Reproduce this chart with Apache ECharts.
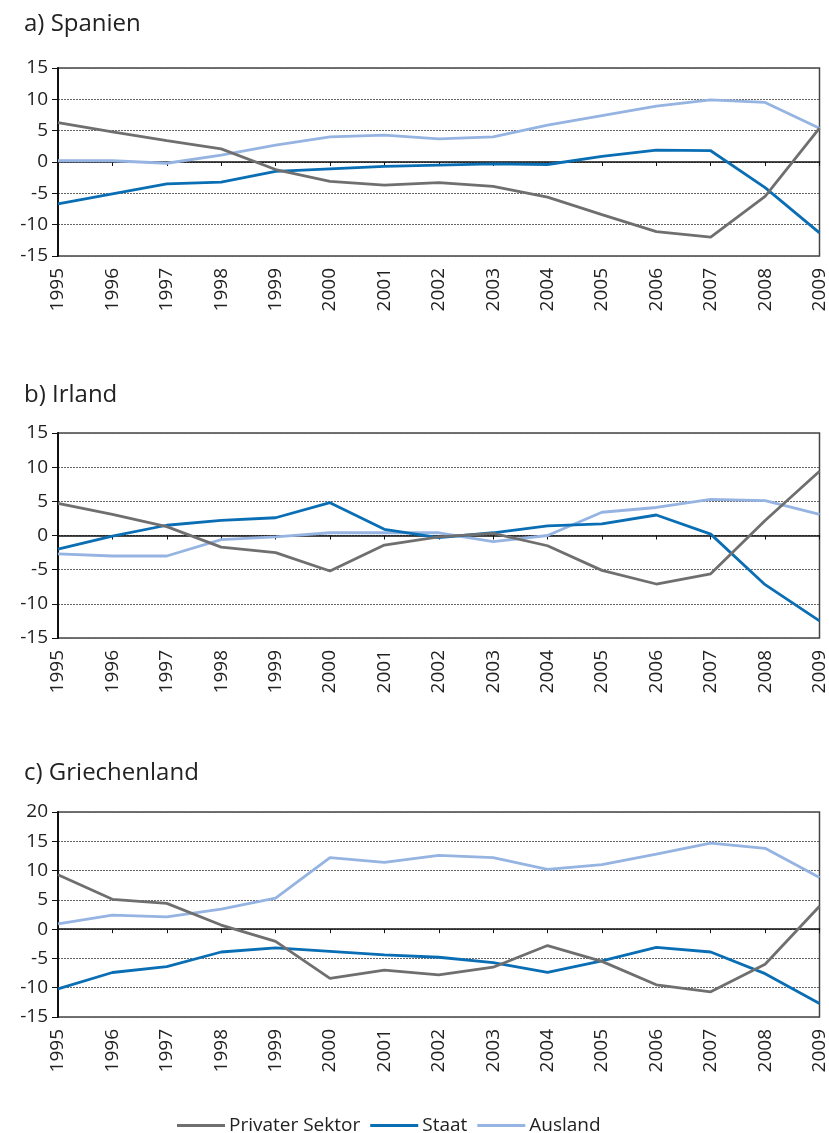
<!DOCTYPE html>
<html>
<head>
<meta charset="utf-8">
<script src="https://cdn.jsdelivr.net/npm/echarts@6/dist/echarts.min.js"></script>
<style>
  html, body { margin: 0; padding: 0; background: #fff; }
  #chart { width: 829px; height: 1133px; }
</style>
</head>
<body>
<div id="chart"></div>
<script>
// Finanzierungssalden nach Sektoren, in % des BIP
const years = ['1995', '1996', '1997', '1998', '1999', '2000', '2001', '2002',
    '2003', '2004', '2005', '2006', '2007', '2008', '2009'];

const seriesNames = ['Privater Sektor', 'Staat', 'Ausland'];

// a) Spanien
const esPrivat = [6.3, 4.8, 3.4, 2.1, -1.2, -3.1, -3.7, -3.3, -3.9, -5.6, -8.4, -11.1, -12.0, -5.5, 5.4];
const esStaat = [-6.7, -5.1, -3.5, -3.2, -1.5, -1.1, -0.7, -0.5, -0.3, -0.4, 0.9, 1.9, 1.8, -4.1, -11.3];
const esAusland = [0.2, 0.2, -0.2, 1.1, 2.7, 4.0, 4.3, 3.7, 4.0, 5.9, 7.4, 8.9, 9.9, 9.5, 5.4];

// b) Irland
const iePrivat = [4.7, 3.1, 1.3, -1.7, -2.5, -5.2, -1.4, -0.2, 0.3, -1.5, -5.1, -7.1, -5.6, 2.2, 9.4];
const ieStaat = [-2.0, -0.1, 1.5, 2.2, 2.6, 4.8, 0.9, -0.3, 0.4, 1.4, 1.7, 3.0, 0.2, -7.2, -12.5];
const ieAusland = [-2.7, -3.0, -3.0, -0.6, -0.2, 0.4, 0.4, 0.4, -0.9, 0.0, 3.4, 4.1, 5.3, 5.1, 3.1];

// c) Griechenland
const grPrivat = [9.3, 5.1, 4.4, 0.7, -2.1, -8.4, -7.0, -7.8, -6.5, -2.8, -5.5, -9.5, -10.7, -6.0, 3.9];
const grStaat = [-10.2, -7.4, -6.4, -3.9, -3.2, -3.8, -4.4, -4.8, -5.7, -7.4, -5.4, -3.1, -3.9, -7.6, -12.7];
const grAusland = [0.9, 2.4, 2.1, 3.4, 5.3, 12.2, 11.4, 12.6, 12.2, 10.2, 11.0, 12.8, 14.7, 13.8, 8.8];

const panelTitles = ['a) Spanien', 'b) Irland', 'c) Griechenland'];
const panelData = [
    [esPrivat, esStaat, esAusland],
    [iePrivat, ieStaat, ieAusland],
    [grPrivat, grStaat, grAusland]
];
const yMin = [-15, -15, -15];
const yMax = [15, 15, 20];

const colors = ['#6f6f6f', '#0a6eb4', '#96b4e1'];
const font = '"Open Sans", "Noto Sans", sans-serif';

const grids = [
    { left: 58, right: 6, top: 68, height: 188 },
    { left: 58, right: 9, top: 433, height: 205 },
    { left: 58, right: 6, top: 812, height: 205 }
];
const titleTops = [7, 378, 756];

const chart = echarts.init(document.getElementById('chart'));

let title = [], grid = [], xAxis = [], yAxis = [], series = [];

panelTitles.forEach((t, i) => {
    title.push({
        text: t,
        left: 19,
        top: titleTops[i],
        textStyle: { fontFamily: font, fontSize: 24, fontWeight: 'normal', color: '#222' }
    });
    grid.push(Object.assign({
        show: true,
        borderColor: '#444',
        borderWidth: 1.5,
        backgroundColor: '#fff'
    }, grids[i]));

    // Kategorieachse unten mit Jahreszahlen
    xAxis.push({
        gridIndex: i,
        type: 'category',
        boundaryGap: false,
        data: years,
        position: 'bottom',
        axisLine: { show: false, onZero: false },
        axisTick: { show: false },
        axisLabel: {
            rotate: 90,
            margin: 12,
            fontFamily: font,
            fontSize: 19,
            color: '#222'
        },
        splitLine: { show: false }
    });
    // Nulllinie mit Teilstrichen
    xAxis.push({
        gridIndex: i,
        type: 'category',
        boundaryGap: false,
        data: years,
        position: 'bottom',
        axisLine: { show: true, onZero: true, lineStyle: { color: '#111', width: 1.5 } },
        axisTick: { show: true, length: 4, lineStyle: { color: '#111' } },
        axisLabel: { show: false },
        splitLine: { show: false }
    });

    yAxis.push({
        gridIndex: i,
        type: 'value',
        min: yMin[i],
        max: yMax[i],
        interval: 5,
        axisLine: { show: true, lineStyle: { color: '#111', width: 2 } },
        axisTick: { show: true, length: 6, lineStyle: { color: '#111' } },
        axisLabel: { margin: 10, fontFamily: font, fontSize: 19, color: '#222' },
        splitLine: { show: true, lineStyle: { color: '#666', type: [2, 1], width: 1 } }
    });

    panelData[i].forEach((vals, k) => {
        series.push({
            name: seriesNames[k],
            type: 'line',
            xAxisIndex: i * 2,
            yAxisIndex: i,
            data: vals,
            symbol: 'none',
            lineStyle: { color: colors[k], width: 2.8 },
            itemStyle: { color: colors[k] },
            z: 5 - k
        });
    });
});

chart.setOption({
    animation: false,
    title: title,
    grid: grid,
    xAxis: xAxis,
    yAxis: yAxis,
    legend: {
        data: seriesNames.map(n => ({ name: n, icon: 'rect' })),
        left: 172,
        top: 1111,
        itemWidth: 48,
        itemHeight: 3,
        itemGap: 10,
        textStyle: { fontFamily: font, fontSize: 19, color: '#222', padding: [0, 0, 0, -1] }
    },
    series: series
});
</script>
</body>
</html>
